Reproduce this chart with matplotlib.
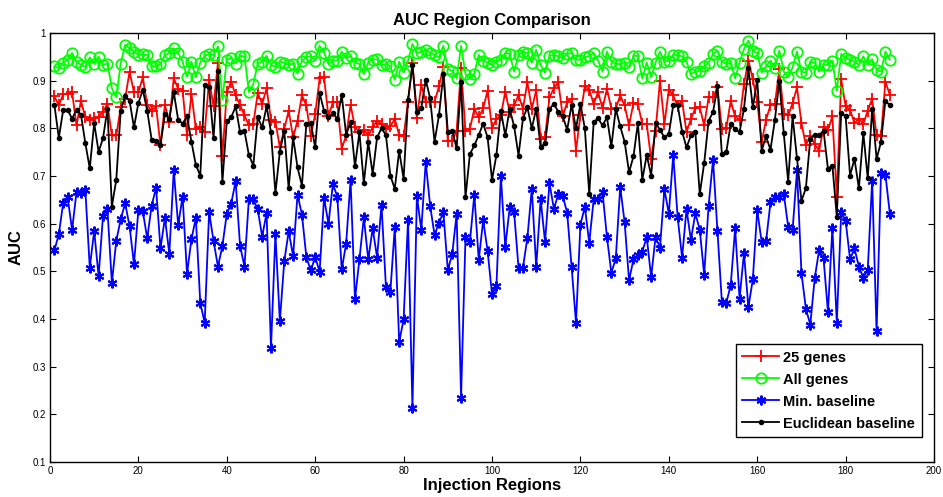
import numpy as np
import matplotlib
matplotlib.use("Agg")
import matplotlib.pyplot as plt

plt.rcParams['font.family'] = ['Liberation Sans', 'DejaVu Sans']

genes25 = [0.867,0.848,0.872,0.872,0.876,0.806,0.858,0.823,0.817,0.821,0.823,0.835,0.851,0.785,0.785,0.844,0.862,0.919,0.876,0.876,0.907,0.848,0.837,0.846,0.764,0.849,0.813,0.905,0.883,0.879,0.785,0.872,
           0.799,0.802,0.792,0.902,0.846,0.938,0.741,0.876,0.898,0.869,0.849,0.827,0.807,0.809,0.874,0.851,0.884,0.818,0.814,0.760,0.799,0.837,0.781,0.816,0.869,0.848,0.783,0.830,0.905,0.907,0.825,0.855,
           0.855,0.757,0.785,0.849,0.802,0.793,0.797,0.785,0.802,0.816,0.809,0.799,0.804,0.820,0.786,0.783,0.856,0.938,0.821,0.891,0.856,0.856,0.856,0.888,0.928,0.774,0.774,0.795,0.926,0.795,0.799,0.841,
           0.823,0.842,0.879,0.800,0.820,0.827,0.877,0.834,0.848,0.870,0.841,0.897,0.841,0.880,0.778,0.781,0.865,0.884,0.897,0.825,0.855,0.862,0.753,0.828,0.888,0.881,0.851,0.876,0.842,0.883,0.841,0.842,
           0.869,0.848,0.806,0.853,0.851,0.809,0.809,0.736,0.795,0.900,0.809,0.881,0.869,0.846,0.858,0.792,0.820,0.842,0.844,0.806,0.865,0.865,0.886,0.799,0.800,0.858,0.825,0.818,0.893,0.942,0.903,0.856,
           0.771,0.818,0.849,0.851,0.924,0.830,0.827,0.853,0.886,0.811,0.765,0.783,0.767,0.753,0.802,0.797,0.825,0.657,0.903,0.846,0.839,0.811,0.820,0.809,0.837,0.862,0.785,0.783,0.898,0.870]

all_genes = [0.930,0.926,0.938,0.944,0.958,0.940,0.933,0.929,0.949,0.935,0.950,0.933,0.936,0.884,0.865,0.936,0.975,0.968,0.961,0.954,0.955,0.954,0.930,0.930,0.935,0.954,0.958,0.968,0.958,0.940,0.908,0.940,
             0.907,0.938,0.952,0.956,0.954,0.972,0.860,0.944,0.947,0.936,0.952,0.951,0.876,0.893,0.936,0.940,0.952,0.933,0.929,0.940,0.938,0.933,0.936,0.915,0.942,0.949,0.952,0.942,0.973,0.959,0.935,0.942,
             0.942,0.961,0.947,0.951,0.938,0.935,0.914,0.938,0.944,0.945,0.933,0.935,0.930,0.902,0.940,0.917,0.942,0.977,0.958,0.961,0.965,0.959,0.954,0.949,0.973,0.924,0.921,0.905,0.973,0.914,0.903,0.915,
             0.954,0.942,0.938,0.933,0.940,0.944,0.958,0.956,0.919,0.954,0.961,0.958,0.938,0.965,0.933,0.917,0.952,0.954,0.951,0.947,0.956,0.958,0.944,0.944,0.949,0.952,0.958,0.942,0.919,0.961,0.940,0.935,
             0.935,0.938,0.928,0.952,0.952,0.905,0.938,0.907,0.938,0.961,0.940,0.942,0.954,0.954,0.951,0.940,0.914,0.919,0.921,0.930,0.938,0.956,0.963,0.940,0.935,0.937,0.905,0.938,0.966,0.984,0.963,0.958,
             0.917,0.930,0.942,0.926,0.963,0.919,0.907,0.928,0.961,0.919,0.917,0.940,0.938,0.919,0.933,0.933,0.942,0.879,0.956,0.947,0.944,0.940,0.933,0.951,0.933,0.945,0.923,0.919,0.961,0.944]

min_baseline = [0.544,0.578,0.644,0.655,0.587,0.666,0.665,0.671,0.508,0.585,0.490,0.617,0.630,0.476,0.564,0.609,0.643,0.595,0.515,0.629,0.626,0.569,0.638,0.675,0.548,0.612,0.537,0.712,0.597,0.657,0.495,0.567,
                0.612,0.434,0.392,0.624,0.564,0.510,0.553,0.621,0.642,0.689,0.554,0.510,0.652,0.651,0.630,0.573,0.622,0.339,0.578,0.395,0.521,0.584,0.532,0.661,0.619,0.530,0.502,0.530,0.499,0.654,0.600,0.683,
                0.657,0.504,0.558,0.692,0.441,0.525,0.613,0.525,0.590,0.529,0.640,0.467,0.457,0.592,0.352,0.399,0.607,0.214,0.658,0.587,0.729,0.638,0.576,0.602,0.624,0.503,0.536,0.621,0.235,0.572,0.562,0.661,
                0.524,0.607,0.543,0.452,0.469,0.700,0.551,0.634,0.624,0.507,0.508,0.570,0.673,0.509,0.651,0.562,0.685,0.631,0.662,0.658,0.623,0.510,0.392,0.598,0.635,0.560,0.651,0.652,0.666,0.572,0.497,0.527,
                0.677,0.603,0.481,0.525,0.534,0.541,0.572,0.488,0.572,0.550,0.672,0.621,0.744,0.613,0.529,0.630,0.566,0.622,0.587,0.493,0.638,0.734,0.584,0.436,0.434,0.471,0.590,0.443,0.538,0.425,0.483,0.628,
                0.562,0.563,0.645,0.655,0.655,0.663,0.594,0.587,0.712,0.497,0.422,0.388,0.485,0.545,0.527,0.415,0.591,0.392,0.624,0.606,0.525,0.548,0.510,0.486,0.503,0.690,0.374,0.706,0.703,0.621]

euclid_baseline = [0.849,0.780,0.839,0.839,0.820,0.839,0.829,0.769,0.716,0.811,0.751,0.779,0.841,0.636,0.692,0.837,0.867,0.858,0.802,0.853,0.881,0.837,0.776,0.773,0.765,0.830,0.820,0.876,0.818,0.810,0.825,0.772,
                   0.723,0.701,0.891,0.886,0.779,0.921,0.687,0.815,0.823,0.846,0.792,0.794,0.744,0.722,0.823,0.802,0.846,0.792,0.664,0.751,0.795,0.674,0.781,0.718,0.680,0.810,0.811,0.760,0.874,0.837,0.823,0.832,
                   0.820,0.870,0.786,0.814,0.720,0.792,0.685,0.771,0.704,0.781,0.800,0.786,0.701,0.673,0.753,0.694,0.859,0.933,0.834,0.842,0.902,0.863,0.772,0.827,0.915,0.793,0.795,0.758,0.897,0.655,0.746,0.764,
                   0.786,0.810,0.781,0.692,0.744,0.837,0.785,0.841,0.804,0.743,0.821,0.844,0.800,0.841,0.760,0.769,0.841,0.851,0.835,0.825,0.797,0.849,0.800,0.851,0.800,0.662,0.813,0.821,0.806,0.823,0.762,0.841,
                   0.804,0.772,0.708,0.741,0.811,0.692,0.744,0.701,0.811,0.797,0.781,0.788,0.849,0.849,0.793,0.760,0.785,0.793,0.662,0.727,0.816,0.834,0.888,0.746,0.750,0.809,0.799,0.792,0.841,0.926,0.844,0.902,
                   0.753,0.783,0.755,0.818,0.900,0.790,0.688,0.825,0.737,0.648,0.674,0.778,0.786,0.786,0.795,0.715,0.722,0.615,0.832,0.825,0.701,0.736,0.674,0.790,0.695,0.841,0.736,0.771,0.858,0.848]

series_names = ["25 genes", "All genes", "Min. baseline", "Euclidean baseline"]
x_ticks = [0, 20, 40, 60, 80, 100, 120, 140, 160, 180, 200]
y_ticks = [0.1, 0.2, 0.3, 0.4, 0.5, 0.6, 0.7, 0.8, 0.9, 1.0]
y_tick_labels = ["0.1", "0.2", "0.3", "0.4", "0.5", "0.6", "0.7", "0.8", "0.9", "1"]

fig = plt.figure(figsize=(9.43, 4.97), dpi=100)
ax = fig.add_axes([0.053, 0.0704, 0.9375, 0.8632])

def xs(a):
    return np.arange(1, len(a) + 1)

lw = 1.3
ax.plot(xs(genes25), genes25, color=(1, 0, 0), marker='+', markersize=8, markeredgewidth=1.3, lw=lw, label=series_names[0])
ax.plot(xs(all_genes), all_genes, color=(0, 1, 0), marker='o', markersize=7.5, markerfacecolor='none', markeredgewidth=1.3, lw=lw, label=series_names[1])
ax.plot(xs(min_baseline), min_baseline, color=(0, 0, 1), marker=(6, 2, 0), markersize=7, markeredgewidth=1.5, lw=lw, label=series_names[2])
ax.plot(xs(euclid_baseline), euclid_baseline, color='black', marker='.', markersize=6, lw=lw, label=series_names[3])

ax.set_xlim(0, 200)
ax.set_ylim(0.1, 1.0)
ax.set_xticks(x_ticks)
ax.set_xticklabels([str(t) for t in x_ticks])
ax.set_yticks(y_ticks)
ax.set_yticklabels(y_tick_labels)
ax.tick_params(direction='in', length=4, labelsize=7, top=True, right=True, labeltop=False, labelright=False, pad=3)
for s in ax.spines.values():
    s.set_linewidth(1.0)

ax.set_title("AUC Region Comparison", fontsize=12, fontweight='bold', pad=6)
ax.set_xlabel("Injection Regions", fontsize=12, fontweight='bold', labelpad=1)
ax.set_ylabel("AUC", fontsize=12, fontweight='bold', labelpad=6)

leg = ax.legend(loc='lower right', bbox_to_anchor=(0.986, 0.058), fontsize=10.5, frameon=True, fancybox=False,
                edgecolor='black', framealpha=1, borderpad=0.45, labelspacing=0.55, handlelength=2.5, handletextpad=0.3, borderaxespad=0)
leg.get_frame().set_linewidth(1.0)
for t in leg.get_texts():
    t.set_fontweight('bold')

fig.savefig("out.png", dpi=100)
